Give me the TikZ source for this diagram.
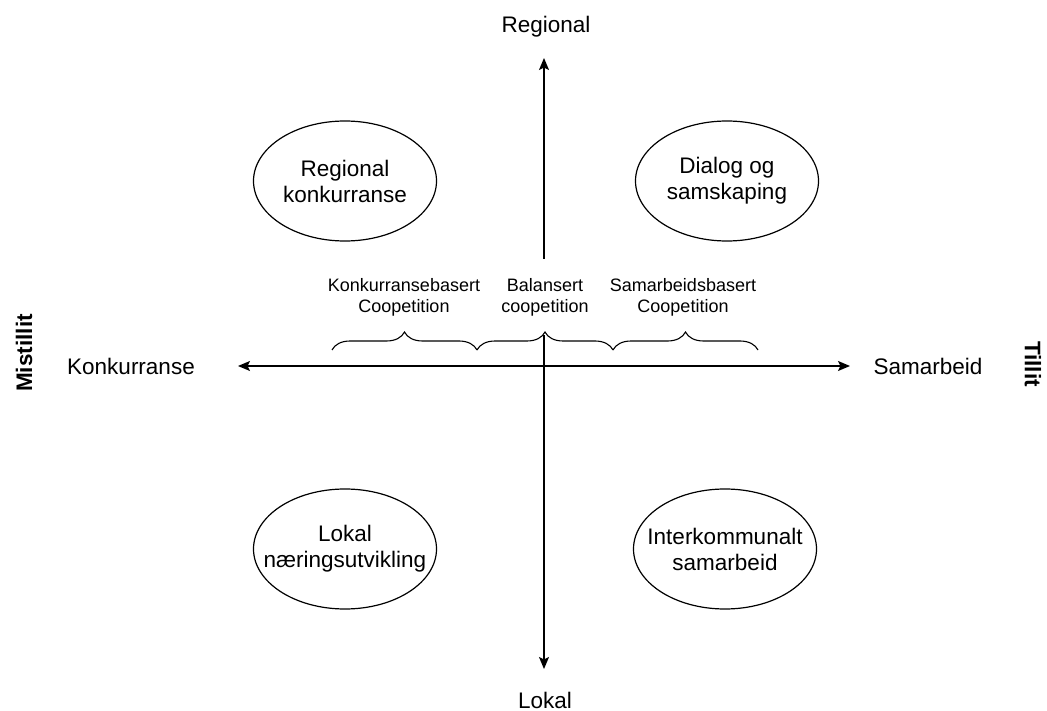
\documentclass[tikz,border=0pt]{standalone}
\usepackage{fontspec}
\setmainfont{Liberation Sans}
\usetikzlibrary{arrows.meta,decorations.pathreplacing,shapes.geometric}
\begin{document}
\begin{tikzpicture}[x=1pt,y=-1pt,
 axis/.style={line width=1.3pt,{Stealth[length=12pt,width=10pt,inset=2.5pt]}-{Stealth[length=12pt,width=10pt,inset=2.5pt]}},
 oval/.style={ellipse,draw,line width=1.2pt,minimum width=183pt,minimum height=120pt,inner xsep=-20pt,inner ysep=0pt,align=center,font=\fontsize{22.5}{26}\selectfont},
 lbl/.style={font=\fontsize{22.5}{26}\selectfont,inner sep=0pt},
 side/.style={font=\bfseries\fontsize{22.5}{26}\selectfont,inner sep=0pt},
 small/.style={align=center,font=\fontsize{18}{21}\selectfont,inner sep=0pt},
 curly/.style={draw,line width=1.1pt,decorate,decoration={brace,amplitude=18pt}}
]
\useasboundingbox (0,0) rectangle (1047,711);
% axes
\coordinate (top) at (544,58);
\coordinate (bot) at (544,669);
\coordinate (left) at (238,366);
\coordinate (right) at (850,366);
\draw[axis] (bot) -- (top);
\draw[axis] (left) -- (right);
% axis labels
\node[lbl] (regional) at (546,27) {Regional};
\node[lbl] (lokal) at (545,700) {Lokal};
\node[lbl] (konk) at (131,366) {Konkurranse};
\node[lbl] (samarb) at (928,366) {Samarbeid};
\node[side,rotate=90] (mist) at (24,353) {Mistillit};
\node[side,rotate=-90] (tillit) at (1033,364) {Tillit};
% quadrants
\node[oval] (q1) at (345,181) {Regional\\konkurranse};
\node[oval] (q2) at (727,181) {Dialog og\\samskaping};
\node[oval] (q3) at (345,549) {Lokal\\næringsutvikling};
\node[oval] (q4) at (725,549) {Interkommunalt\\samarbeid};
% brace labels
\node[small] (b1l) at (404,297) {Konkurransebasert\\Coopetition};
\node[small,fill=white,minimum height=76pt,inner xsep=3pt] (b2l) at (545,297) {Balansert\\coopetition};
\node[small] (b3l) at (683,297) {Samarbeidsbasert\\Coopetition};
% braces
\coordinate (b1a) at (332,350);
\coordinate (b1b) at (477,350);
\coordinate (b2b) at (613,350);
\coordinate (b3b) at (758,350);
\draw[curly] (b1a) -- (b1b);
\draw[curly] (b1b) -- (b2b);
\draw[curly] (b2b) -- (b3b);
\end{tikzpicture}
\end{document}
